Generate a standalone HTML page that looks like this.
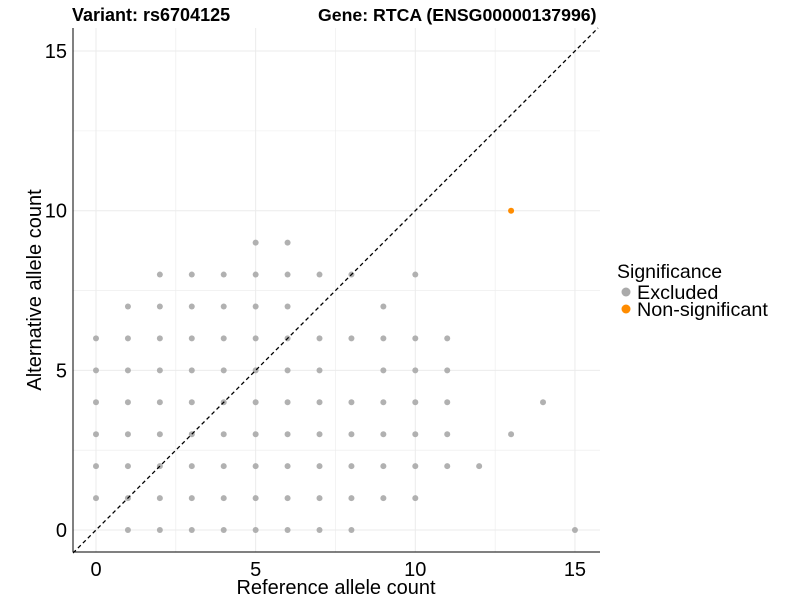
<!DOCTYPE html>
<html><head><meta charset="utf-8"><style>
body{margin:0;background:#fff;font-family:"Liberation Sans",sans-serif}
svg text{font-family:"Liberation Sans",sans-serif}
</style></head><body>
<svg width="800" height="600">
<g id="grid"></g>
<line x1="73" y1="28" x2="73" y2="552" stroke="#000" stroke-width="1"/>
<line x1="73" y1="552" x2="600" y2="552" stroke="#000" stroke-width="1"/>
<g id="pts"></g>
<line id="diag" stroke="#000" stroke-width="1.3" stroke-dasharray="4,3"/>
<g id="ticks"></g>
<text x="72" y="21" font-size="18" font-weight="bold">Variant: rs6704125</text>
<text x="318" y="21" font-size="17.7" font-weight="bold">Gene: RTCA (ENSG00000137996)</text>
<text x="336" y="594" font-size="20" text-anchor="middle">Reference allele count</text>
<text transform="translate(41,290) rotate(-90)" font-size="20" text-anchor="middle">Alternative allele count</text>
<g>
<text x="617" y="278" font-size="19.5">Significance</text>
<circle cx="626" cy="292" r="4.5" fill="#aaaaaa"/>
<text x="637" y="299" font-size="19.8">Excluded</text>
<circle cx="626" cy="309" r="4.5" fill="#ff8c00"/>
<text x="637" y="316" font-size="19.8">Non-significant</text>
</g>
</svg>
<script>
const rowsY=[8,7,6,5,4,3,2,1,0,9];
const rowsX=[[2,3,4,5,6,7,8,10],[1,2,3,4,5,6,9],[0,1,2,3,4,5,6,7,8,9,10,11],[0,1,2,3,4,5,6,7,9,10,11],[0,1,2,3,4,5,6,7,8,9,10,11,14],[0,1,2,3,4,5,6,7,8,9,10,11,13],[0,1,2,3,4,5,6,7,8,9,10,11,12],[0,1,2,3,4,5,6,7,8,9,10],[1,2,3,4,5,6,7,8,15],[5,6]];
const nonSigX=[13], nonSigY=[10];
const ticks=[0,5,10,15];
const xs=v=>96+v*31.93, ys=v=>530-v*31.93;
const NS="http://www.w3.org/2000/svg";
const grid=document.getElementById('grid'),pts=document.getElementById('pts'),tk=document.getElementById('ticks');
function mk(tag,a,p){const e=document.createElementNS(NS,tag);for(const k in a)e.setAttribute(k,a[k]);p.appendChild(e);return e;}
for(let v=-2.5;v<=15;v+=2.5){
  if(xs(v)>73&&xs(v)<600){const l=mk('line',{x1:xs(v),x2:xs(v),y1:28,y2:552,stroke:'#ebebeb','stroke-width':v%5?0.6:1},grid);
  
  }
  if(ys(v)>28&&ys(v)<552){const l=mk('line',{x1:73,x2:600,y1:ys(v),y2:ys(v),stroke:'#ebebeb','stroke-width':v%5?0.6:1},grid);
  
  }
}
ticks.forEach(t=>{
  const a=mk('text',{x:xs(t),y:576,'font-size':20,'text-anchor':'middle'},tk);a.textContent=t;
  
  
  const b=mk('text',{x:67,y:ys(t)+7,'font-size':20,'text-anchor':'end'},tk);b.textContent=t;
  
  
});
rowsY.forEach((y,i)=>rowsX[i].forEach(x=>{
  const c=mk('circle',{cx:xs(x),cy:ys(y),r:3,fill:'#a9a9a9','fill-opacity':0.9},pts);
  
  
}));
nonSigX.forEach((x,i)=>{
  const c=mk('circle',{cx:xs(x),cy:ys(nonSigY[i]),r:3,fill:'#ff8c00'},pts);
  
  
});
const d=document.getElementById('diag');
const lo=(73-96)/31.93, hi=(28-530)/-31.93;
d.setAttribute('x1',xs(lo));d.setAttribute('y1',ys(lo));d.setAttribute('x2',xs(hi));d.setAttribute('y2',ys(hi));
</script>
</body></html>
